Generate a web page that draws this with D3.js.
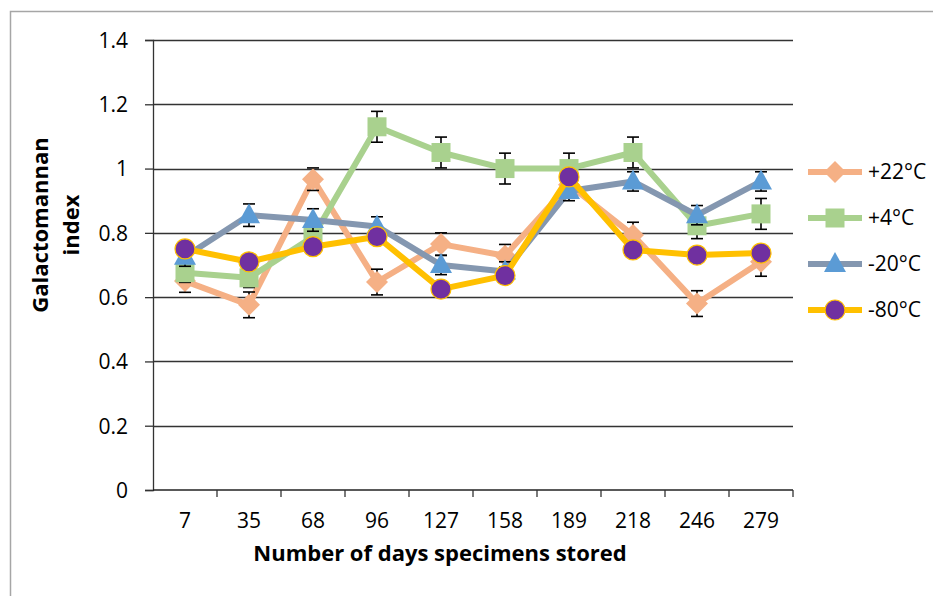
<!DOCTYPE html>
<html>
<head>
<meta charset="utf-8">
<script src="https://cdn.jsdelivr.net/npm/d3@7.9.0/dist/d3.min.js"></script>
<style>
  body { margin: 0; background: #fff; }
  svg text { font-family: "Open Sans", "Noto Sans", sans-serif; fill: #000; }
</style>
</head>
<body>
<svg width="933" height="596"></svg>
<script>
// days of storage (categories)
const days = ['7', '35', '68', '96', '127', '158', '189', '218', '246', '279'];

// galactomannan index per storage temperature
const plus22 = [0.65, 0.576, 0.967, 0.647, 0.765, 0.729, 0.95, 0.793, 0.58, 0.71];
const plus4 = [0.676, 0.66, 0.788, 1.13, 1.05, 1.0, 1.0, 1.05, 0.822, 0.859];
const minus20 = [0.726, 0.855, 0.84, 0.82, 0.70, 0.68, 0.93, 0.96, 0.855, 0.96];
const minus80 = [0.75, 0.71, 0.757, 0.788, 0.625, 0.667, 0.974, 0.747, 0.731, 0.737];

// error bar half-widths
const err22 = [0.035, 0.04, 0.035, 0.04, 0.035, 0.035, 0.04, 0.04, 0.04, 0.045];
const err4 = [0.03, 0.03, 0.035, 0.048, 0.048, 0.048, 0.048, 0.048, 0.04, 0.048];
const err20 = [0.03, 0.035, 0.035, 0.03, 0.03, 0.03, 0.03, 0.03, 0.03, 0.03];
const err80 = [0.02, 0.02, 0.02, 0.02, 0.02, 0.02, 0.02, 0.02, 0.02, 0.02];

const yTicks = [0, 0.2, 0.4, 0.6, 0.8, 1, 1.2, 1.4];

const series = [
  { name: '+22°C', values: plus22, err: err22, line: '#F5B085', fill: '#F5B085', stroke: 'none', shape: 'diamond' },
  { name: '+4°C', values: plus4, err: err4, line: '#A9D18E', fill: '#A9D18E', stroke: 'none', shape: 'square' },
  { name: '-20°C', values: minus20, err: err20, line: '#8497B0', fill: '#5B9BD5', stroke: 'none', shape: 'triangle' },
  { name: '-80°C', values: minus80, err: err80, line: '#FFC000', fill: '#7030A0', stroke: '#FFC000', shape: 'circle' }
];

const svg = d3.select('svg');
const plotLeft = 153, plotRight = 793, plotTop = 40, plotBottom = 490;

// chart frame
svg.append('path')
  .attr('d', `M10.5,596 V11.5 H933`)
  .attr('fill', 'none')
  .attr('stroke', '#a6a6a6')
  .attr('stroke-width', 1.5);

const x = d3.scaleBand().domain(days).range([plotLeft, plotRight]);
const y = d3.scaleLinear().domain([0, 1.4]).range([plotBottom, plotTop]);

// grid lines
svg.append('g')
  .selectAll('line')
  .data(yTicks.filter(d => d > 0))
  .join('line')
  .attr('x1', plotLeft).attr('x2', plotRight)
  .attr('y1', d => Math.round(y(d)) + 0.5).attr('y2', d => Math.round(y(d)) + 0.5)
  .attr('stroke', '#333').attr('stroke-width', 1.3);

// y axis
const yAxis = svg.append('g')
  .attr('transform', `translate(${plotLeft},0)`)
  .call(d3.axisLeft(y).tickValues(yTicks).tickSize(8).tickPadding(17).tickFormat(d3.format('')));
yAxis.select('.domain').attr('stroke', '#333').attr('stroke-width', 1.3);
yAxis.selectAll('.tick line').attr('stroke', '#333').attr('stroke-width', 1.3);
yAxis.selectAll('text').attr('font-size', 21).attr('dy', '0.35em');

// x axis
const xAxis = svg.append('g')
  .attr('transform', `translate(0,${plotBottom})`)
  .call(d3.axisBottom(x).tickSize(0).tickPadding(23));
xAxis.select('.domain').attr('stroke', '#222').attr('stroke-width', 1.6).attr('d', `M${plotLeft},0H${plotRight}`);
xAxis.selectAll('text').attr('font-size', 21);
// category boundary ticks
xAxis.append('g')
  .selectAll('line')
  .data(days)
  .join('line')
  .attr('x1', d => x(d) + x.bandwidth()).attr('x2', d => x(d) + x.bandwidth())
  .attr('y1', 0).attr('y2', 7)
  .attr('stroke', '#333').attr('stroke-width', 1.3);

// axis titles
svg.append('text')
  .attr('x', 440).attr('y', 561)
  .attr('text-anchor', 'middle')
  .attr('font-weight', 'bold').attr('font-size', 22)
  .text('Number of days specimens stored');

const yTitle = svg.append('text')
  .attr('transform', 'translate(56,225) rotate(-90)')
  .attr('text-anchor', 'middle')
  .attr('font-weight', 'bold').attr('font-size', 22);
yTitle.append('tspan').attr('x', 0).attr('dy', -8).text('Galactomannan');
yTitle.append('tspan').attr('x', 0).attr('dy', 31).text('index');

const cx = d => x(d) + x.bandwidth() / 2;

function marker(g, shape, fill, stroke) {
  if (shape === 'circle') {
    g.append('circle').attr('r', 10).attr('fill', fill).attr('stroke', stroke).attr('stroke-width', 1.2);
  } else if (shape === 'square') {
    g.append('rect').attr('x', -9.5).attr('y', -9.5).attr('width', 19).attr('height', 19).attr('fill', fill);
  } else if (shape === 'diamond') {
    g.append('path').attr('d', 'M0,-11L11,0L0,11L-11,0Z').attr('fill', fill);
  } else {
    g.append('path').attr('d', 'M0,-12L11,8L-11,8Z').attr('fill', fill);
  }
}

const line = d3.line().x((d, i) => cx(days[i])).y(d => y(d));

series.forEach(s => {
  const g = svg.append('g');
  g.append('path')
    .attr('d', line(s.values))
    .attr('fill', 'none')
    .attr('stroke', s.line)
    .attr('stroke-width', 6)
    .attr('stroke-linejoin', 'round');

  // error bars
  const eb = g.append('g').attr('stroke', '#000').attr('stroke-width', 1.6);
  s.values.forEach((v, i) => {
    const px = cx(days[i]);
    const y1 = y(v - s.err[i]), y2 = y(v + s.err[i]);
    eb.append('line').attr('x1', px).attr('x2', px).attr('y1', y1).attr('y2', y2);
    eb.append('line').attr('x1', px - 6).attr('x2', px + 6).attr('y1', y1).attr('y2', y1);
    eb.append('line').attr('x1', px - 6).attr('x2', px + 6).attr('y1', y2).attr('y2', y2);
  });

  s.values.forEach((v, i) => {
    marker(g.append('g').attr('transform', `translate(${cx(days[i])},${y(v)})`), s.shape, s.fill, s.stroke);
  });
});

// legend
const legend = svg.append('g');
series.forEach((s, i) => {
  const ly = 172 + i * 46;
  const row = legend.append('g').attr('transform', `translate(808,${ly})`);
  row.append('line').attr('x1', 0).attr('x2', 54).attr('stroke', s.line).attr('stroke-width', 6);
  marker(row.append('g').attr('transform', 'translate(27,0)'), s.shape, s.fill, s.stroke);
  row.append('text').attr('x', 60).attr('dy', '0.35em').attr('font-size', 21).text(s.name);
});
</script>
</body>
</html>
